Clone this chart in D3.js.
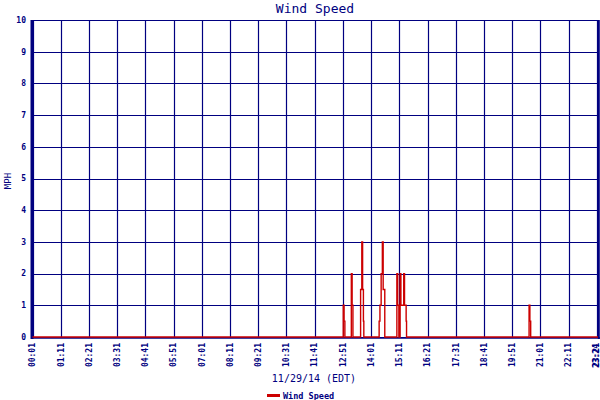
<!DOCTYPE html>
<html><head><meta charset="utf-8">
<script src="https://cdn.jsdelivr.net/npm/d3@7"></script>
<style>body{margin:0;background:#fff}svg{display:block}text{font-family:"DejaVu Sans Mono",monospace;fill:#000080}</style>
</head><body><svg id="c" width="600" height="400"></svg>
<script>
const title = "Wind Speed";
const xTitle = "11/29/14 (EDT)";
const yTitle = "MPH";
const seriesName = "Wind Speed";
const xTickLabels = ["00:01","01:11","02:21","03:31","04:41","05:51","07:01","08:11","09:21","10:31","11:41","12:51","14:01","15:11","16:21","17:31","18:41","19:51","21:01","22:11","23:21","23:24"];
const yTickValues = [0,1,2,3,4,5,6,7,8,9,10];
const times = ["00:01","12:52","12:54","12:56","13:12","13:14","13:16","13:35","13:38","13:40","13:42","13:43","14:21","14:23","14:26","14:29","14:31","14:35","15:05","15:07","15:10","15:13","15:15","15:22","15:24","15:28","15:29","20:33","20:35","20:37","23:24"];
const speeds = [0,1,0.5,0,2,1,0,1.5,3,1.5,0.5,0,0.5,1,2,3,1.5,0,2,1,0,2,1,2,1,0.5,0,1,0.5,0,0];

const toMin = s => { const [h,m] = s.split(":").map(Number); return h*60+m; };
const svg = d3.select("#c");
const navy = "#000080", red = "#cc0000";
const x = d3.scaleLinear().domain([toMin("00:01"), toMin("23:24")]).range([32.5, 598]);
const y = d3.scaleLinear().domain([0,10]).range([337, 20]);

// grid
svg.append("g").selectAll("line").data(yTickValues).join("line")
  .attr("x1", 32).attr("x2", 599).attr("y1", d=>Math.round(y(d))+0.5).attr("y2", d=>Math.round(y(d))+0.5)
  .attr("stroke", navy).attr("stroke-width", 1.2);
svg.append("g").selectAll("line").data(xTickLabels.slice(0,-1)).join("line")
  .attr("x1", d=>Math.round(x(toMin(d)))+0.5).attr("x2", d=>Math.round(x(toMin(d)))+0.5)
  .attr("y1", 20).attr("y2", 338).attr("stroke", navy).attr("stroke-width", 1.2);

// axes lines
svg.append("line").attr("x1",32).attr("x2",32).attr("y1",20).attr("y2",339).attr("stroke",navy).attr("stroke-width",3);
svg.append("line").attr("x1",598.8).attr("x2",598.8).attr("y1",20).attr("y2",339).attr("stroke",navy).attr("stroke-width",2);
svg.append("line").attr("x1",31).attr("x2",600).attr("y1",338).attr("y2",338).attr("stroke",navy).attr("stroke-width",1.5);

// y ticks
svg.append("g").selectAll("text").data(yTickValues).join("text")
  .attr("x", 26).attr("y", d=>y(d)).attr("dy","0.35em").attr("text-anchor","end")
  .attr("font-size", 8).attr("font-weight","bold").text(d=>d);

// x ticks
svg.append("g").selectAll("text").data(xTickLabels).join("text")
  .attr("transform", (d,i)=>`translate(${Math.min(x(toMin(d)), 596.5)},${343+(i===xTickLabels.length-1?1:0)}) rotate(-90)`)
  .attr("dy","0.35em").attr("text-anchor","end")
  .attr("font-size", 8).attr("font-weight","bold").text(d=>d);

// data line
const data = times.map((t,i)=>({t:toMin(t), v:speeds[i]}));
svg.append("path").datum(data)
  .attr("d", d3.line().curve(d3.curveStepAfter).x(d=>x(d.t)).y(d=>y(d.v)))
  .attr("fill","none").attr("stroke",red).attr("stroke-width",1.4);

// titles
svg.append("text").attr("x",315).attr("y",13).attr("text-anchor","middle").attr("font-size",13).text(title);
svg.append("text").attr("x",314).attr("y",382).attr("text-anchor","middle").attr("font-size",10).text(xTitle);
svg.append("text").attr("transform","translate(11,181) rotate(-90)").attr("text-anchor","middle").attr("font-size",9).text(yTitle);

// legend
svg.append("line").attr("x1",267).attr("x2",280).attr("y1",395.5).attr("y2",395.5).attr("stroke",red).attr("stroke-width",3);
svg.append("text").attr("x",283).attr("y",398.5).attr("font-size",8.5).attr("font-weight","bold").text(seriesName);
</script></body></html>
